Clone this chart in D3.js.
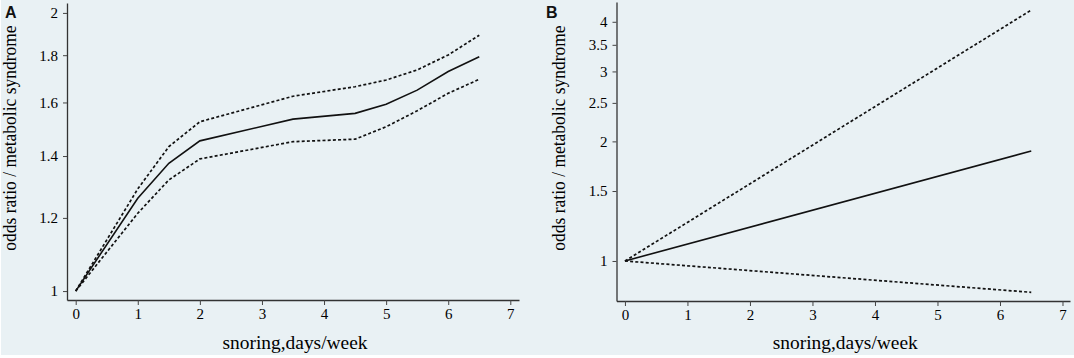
<!DOCTYPE html>
<html>
<head>
<meta charset="utf-8">
<script src="https://cdn.jsdelivr.net/npm/d3@7"></script>
<style>
  body { margin: 0; background: #ffffff; }
  svg { display: block; }
</style>
</head>
<body>
<div id="chart"></div>
<script>
// panel A: restricted cubic spline, odds ratio vs snoring days/week
var snoringA = [0, 1, 1.5, 2, 3.5, 4.5, 5, 5.5, 6, 6.5];
var orA      = [1, 1.26, 1.375, 1.454, 1.535, 1.557, 1.593, 1.65, 1.728, 1.793];
var upperA   = [1, 1.29, 1.433, 1.525, 1.625, 1.664, 1.692, 1.735, 1.801, 1.892];
var lowerA   = [1, 1.214, 1.319, 1.39, 1.451, 1.46, 1.506, 1.567, 1.637, 1.695];
var yTicksA  = [1, 1.2, 1.4, 1.6, 1.8, 2];

// panel B: linear model
var snoringB = [0, 6.5];
var orB      = [1, 1.892];
var upperB   = [1, 4.28];
var lowerB   = [1, 0.834];
var yTicksB  = [1, 1.5, 2, 2.5, 3, 3.5, 4];

var xTicks = [0, 1, 2, 3, 4, 5, 6, 7];
var yTitle = "odds ratio / metabolic syndrome";
var xTitle = "snoring,days/week";

var W = 1074, H = 358;
var serif = "'Liberation Serif', 'Times New Roman', serif";

function init() {
    var svg = d3.select("#chart")
        .append("svg")
        .attr("width", W)
        .attr("height", H);

    svg.append("rect") // panel background
        .attr("x", 1)
        .attr("y", 0)
        .attr("width", W - 1)
        .attr("height", 355)
        .attr("fill", "#e9f1f4");

    drawPanel(svg, {
        label: "A", labelX: 5,
        xDomain: [-0.14, 7.14], xRange: [67, 519],
        yDomain: [0.978, 2.05], yRange: [300, 3],
        yTicks: yTicksA, yTitleX: 15.5,
        x: snoringA, mid: orA, hi: upperA, lo: lowerA
    });

    drawPanel(svg, {
        label: "B", labelX: 546,
        xDomain: [-0.135, 7.12], xRange: [616.5, 1070],
        yDomain: [0.793, 4.486], yRange: [301, 2],
        yTicks: yTicksB, yTitleX: 565,
        x: snoringB, mid: orB, hi: upperB, lo: lowerB
    });
}

function drawPanel(svg, p) {
    var xScale = d3.scaleLinear()
        .domain(p.xDomain)
        .range(p.xRange);

    var yScale = d3.scaleLog()
        .domain(p.yDomain)
        .range(p.yRange);

    var xAxis = d3.axisBottom(xScale)
        .tickValues(xTicks)
        .tickSizeInner(5)
        .tickSizeOuter(0)
        .tickPadding(3)
        .tickFormat(d3.format("d"));

    var yAxis = d3.axisLeft(yScale)
        .tickValues(p.yTicks)
        .tickSizeInner(4)
        .tickSizeOuter(0)
        .tickPadding(5)
        .tickFormat(function(d) { return String(d); });

    var gx = svg.append("g") // x axis
        .attr("transform", "translate(0," + p.yRange[0] + ")")
        .call(xAxis);

    var gy = svg.append("g") // y axis
        .attr("transform", "translate(" + p.xRange[0] + ",0)")
        .call(yAxis);

    [gx, gy].forEach(function(g) {
        g.attr("font-family", serif).attr("font-size", 15);
        g.select(".domain").attr("stroke", "#333").attr("stroke-width", 1.3);
        g.selectAll(".tick line").attr("stroke", "#444").attr("stroke-width", 1);
        g.selectAll(".tick text").attr("fill", "#000");
    });

    var line = d3.line()
        .x(function(d) { return xScale(d[0]); })
        .y(function(d) { return yScale(d[1]); });

    var series = [
        { vals: p.hi, dash: "3,2.2", w: 1.7 },
        { vals: p.lo, dash: "3,2.2", w: 1.7 },
        { vals: p.mid, dash: null, w: 1.6 }
    ];

    series.forEach(function(s) {
        svg.append("path")
            .datum(p.x.map(function(v, i) { return [v, s.vals[i]]; }))
            .attr("d", line)
            .attr("fill", "none")
            .attr("stroke", "#111")
            .attr("stroke-width", s.w)
            .attr("stroke-dasharray", s.dash);
    });

    var xMid = (p.xRange[0] + p.xRange[1]) / 2;

    svg.append("text") // x title
        .attr("transform", "translate(" + (xMid + 2) + ",349) scale(1.08,1)")
        .attr("text-anchor", "middle")
        .style("font-family", serif)
        .style("font-size", "18px")
        .style("fill", "#000")
        .text(xTitle);

    svg.append("text") // y title
        .attr("transform", "translate(" + p.yTitleX + ",138) scale(1.1,1) rotate(-90)")
        .attr("text-anchor", "middle")
        .style("font-family", serif)
        .style("font-size", "17.5px")
        .style("fill", "#000")
        .text(yTitle);

    svg.append("text") // panel letter
        .attr("x", p.labelX)
        .attr("y", 18)
        .style("font-family", "'Liberation Sans', Arial, sans-serif")
        .style("font-weight", "bold")
        .style("font-size", "16px")
        .style("fill", "#111")
        .text(p.label);
}

window.onload = init();
</script>
</body>
</html>
